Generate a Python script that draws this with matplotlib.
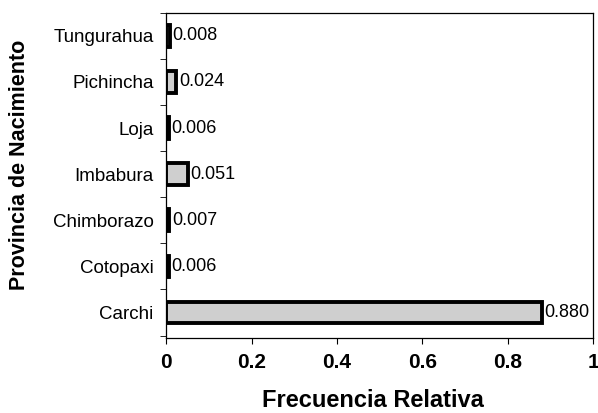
import matplotlib
matplotlib.use("Agg")
import matplotlib.pyplot as plt

provincias = ["Carchi", "Cotopaxi", "Chimborazo", "Imbabura", "Loja", "Pichincha", "Tungurahua"]
frecuencia = [0.880, 0.006, 0.007, 0.051, 0.006, 0.024, 0.008]
xticks = [0, 0.2, 0.4, 0.6, 0.8, 1]
xticklabels = ["0", "0.2", "0.4", "0.6", "0.8", "1"]

plt.rcParams['font.family'] = ['Liberation Sans', 'DejaVu Sans']

fig = plt.figure(figsize=(5.98, 4.13), dpi=100)
ax = fig.add_axes([0.278, 0.182, 0.714, 0.787])

pos = range(len(provincias))
ax.barh(pos, frecuencia, height=0.47, color="#cfcfcf", edgecolor="black", linewidth=2.8)
for y, v in zip(pos, frecuencia):
    ax.text(v + 0.006, y, f"{v:.3f}", va="center", ha="left", fontsize=13)

ax.set_xlim(0, 1)
ax.set_ylim(-0.55, 6.45)
ax.set_yticks(list(pos))
ax.set_yticklabels(provincias, fontsize=13.5)
ax.set_yticks([p + 0.5 for p in range(-1, len(provincias))], minor=True)
ax.tick_params(axis="y", which="major", length=0, pad=9)
ax.tick_params(axis="y", which="minor", length=4, direction="out")
ax.set_xticks(xticks)
ax.set_xticklabels(xticklabels, fontsize=15, fontweight="bold")
ax.tick_params(axis="x", length=4, direction="out", pad=7)

ax.set_xlabel("Frecuencia Relativa", fontsize=17, fontweight="bold")
ax.set_ylabel("Provincia de Nacimiento", fontsize=15.5, fontweight="bold")
ax.xaxis.set_label_coords(0.483, -0.157)
ax.yaxis.set_label_coords(-0.32, 0.532)

for s in ax.spines.values():
    s.set_linewidth(0.9)

fig.savefig("out.png", dpi=100)
